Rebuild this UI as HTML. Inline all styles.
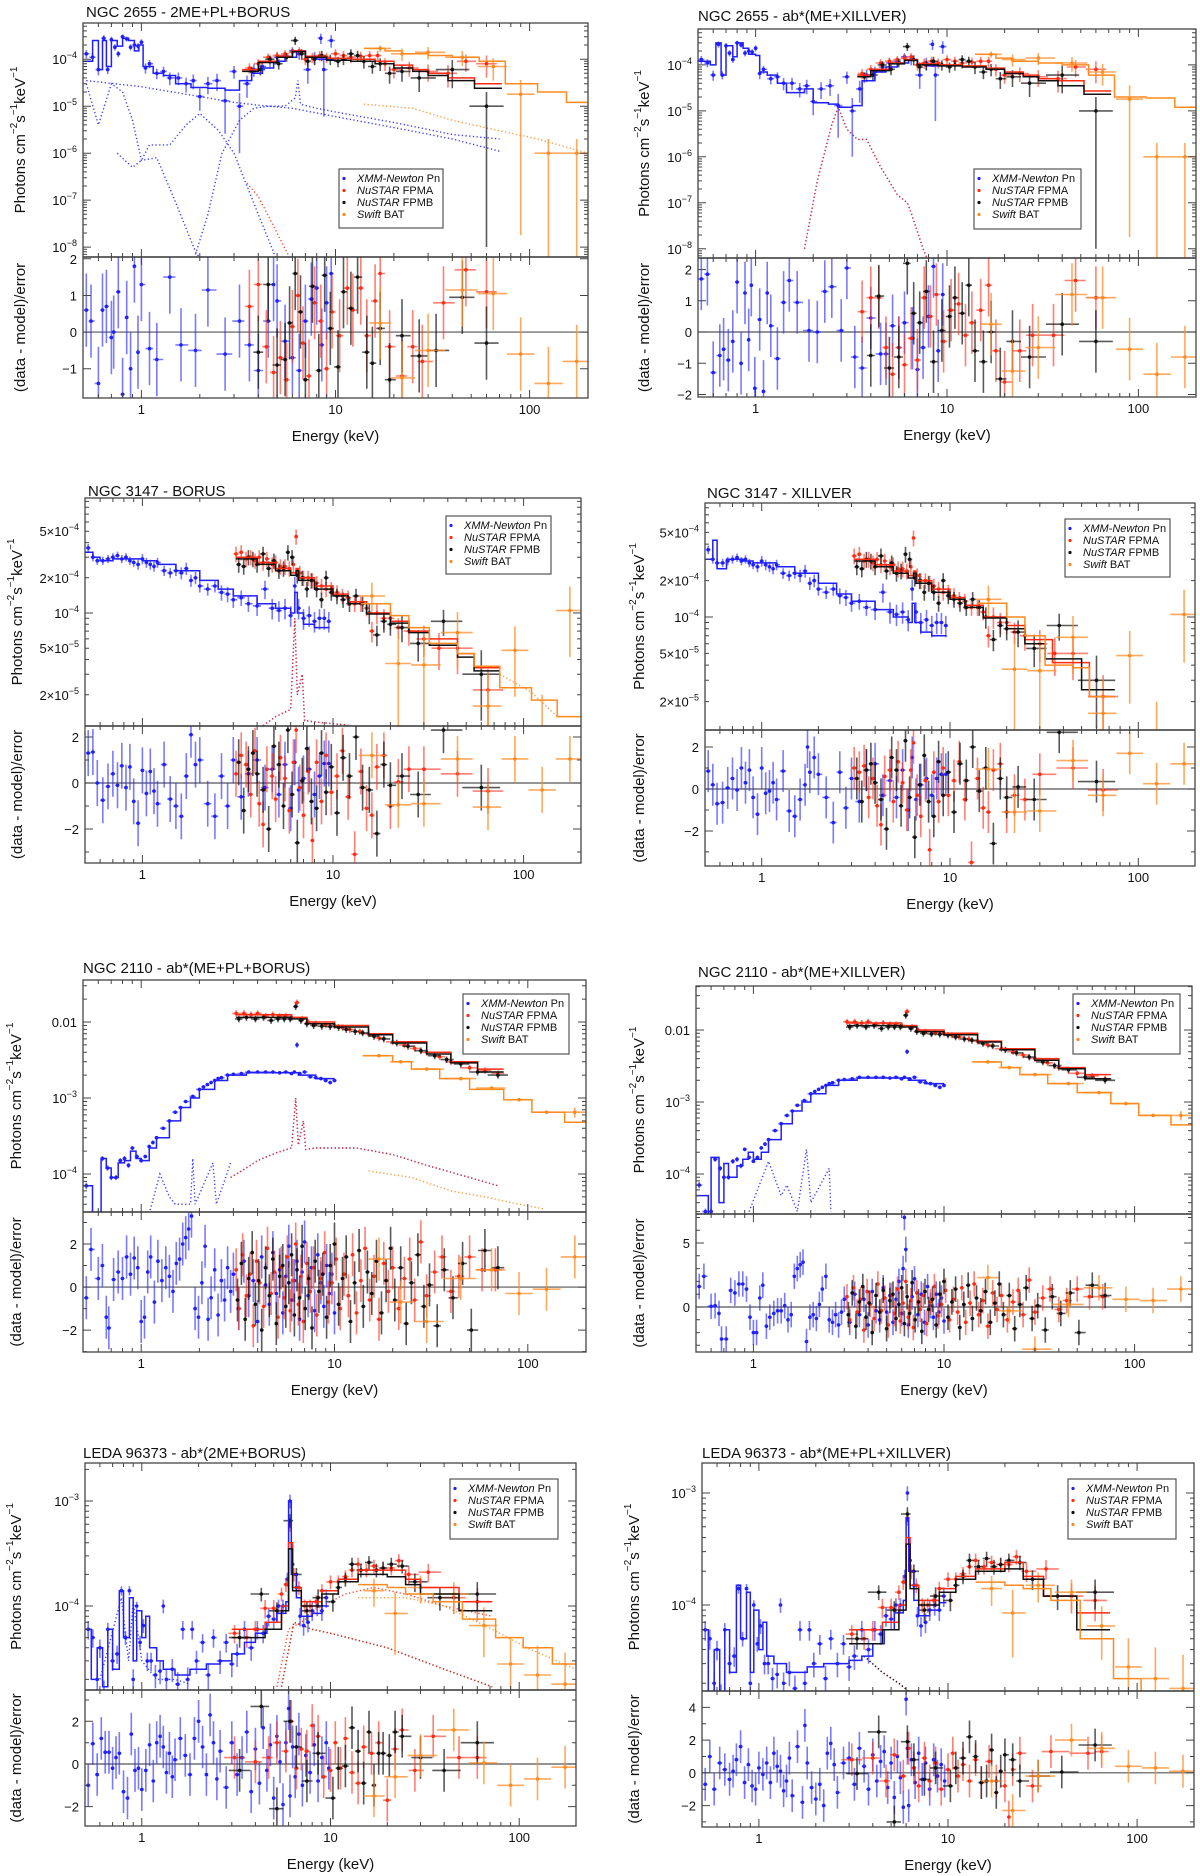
<!DOCTYPE html>
<html><head><meta charset="utf-8">
<style>
html,body{margin:0;padding:0;background:#fff;overflow:hidden;}
svg{display:block;font-family:"Liberation Sans",Arial,sans-serif;}
</style></head>
<body>
<svg id="fig" width="1200" height="1876" viewBox="0 0 1200 1876" xmlns="http://www.w3.org/2000/svg"></svg>
<script>
// ================= DATA =================
const xTickVals = [1, 10, 100];
const xTickLabels = ["1", "10", "100"];

// ---- NGC 2655 spectra [E(keV), flux, relErr] ----
const n2655_xmm = [[0.52,1.3e-4,.2],[0.56,1.1e-4,.2],[0.6,6e-5,.25],[0.64,2.8e-4,.15],[0.67,6e-5,.2],[0.7,2.6e-4,.15],[0.73,1.8e-4,.15],[0.76,1.3e-4,.15],[0.8,3e-4,.12],[0.84,2.7e-4,.12],[0.88,1.8e-4,.15],[0.92,2e-4,.15],[0.96,1.9e-4,.15],[1.0,2.3e-4,.15],[1.05,6.5e-5,.25],[1.1,8e-5,.2],[1.2,5e-5,.25],[1.3,5.5e-5,.25],[1.4,4e-5,.3],[1.55,4e-5,.3],[1.7,3e-5,.35],[1.85,3.5e-5,.35],[2.0,1.6e-5,.5],[2.2,3e-5,.4],[2.45,3.5e-5,.4],[2.7,1.3e-5,.8],[3.0,5.5e-5,.3],[3.2,1e-5,.9],[3.5,3e-5,.5],[3.8,6e-5,.3],[4.2,7e-5,.3],[4.6,9e-5,.25],[5.0,1.1e-4,.25],[5.5,1.2e-4,.2],[6.0,1.5e-4,.2],[6.5,1.3e-4,.25],[7.2,6e-5,.5],[7.8,1.1e-4,.3],[8.4,2.8e-4,.25],[8.7,6e-5,.9],[9.5,2.5e-4,.3]];
const n2655_fpma = [[3.6,6.5e-5,.25],[4.0,8e-5,.25],[4.5,1.1e-4,.2],[5.0,1.2e-4,.2],[5.5,1.3e-4,.2],[6.0,1.4e-4,.2],[6.5,1.5e-4,.2],[7.0,1e-4,.25],[7.6,1.1e-4,.25],[8.3,1.2e-4,.25],[9.0,1.1e-4,.25],[10,1.3e-4,.25],[11,1.2e-4,.25],[12,1.1e-4,.25],[13.5,1.15e-4,.25],[15,1.2e-4,.25],[16.5,1.2e-4,.25],[18,8e-5,.3],[20,6e-5,.35],[24,6.5e-5,.35],[30,5.5e-5,.4],[38,5e-5,.5],[47,9e-5,.4],[60,8e-5,.5]];
const n2655_fpmb = [[3.7,5.5e-5,.25],[4.1,6e-5,.25],[4.6,1e-4,.2],[5.1,8e-5,.25],[5.6,1.1e-4,.2],[6.2,2.5e-4,.2],[6.7,1.3e-4,.25],[7.2,9e-5,.25],[7.8,1e-4,.25],[8.5,1.2e-4,.25],[9.4,1e-4,.25],[10.3,9e-5,.25],[11,1e-4,.25],[12,1.3e-4,.25],[13,1.2e-4,.25],[14,9e-5,.3],[15.5,7e-5,.3],[17,8e-5,.3],[19,5e-5,.4],[22,5.5e-5,.4],[27,4e-5,.5],[40,6e-5,.6],[60,1e-5,.999]];
const n2655_bat = [[17,1.7e-4,.15],[22,1.3e-4,.3],[30,1.4e-4,.3],[45,1.1e-4,.35],[65,7e-5,.5],[90,1.8e-5,.999],[125,1e-6,.999],[175,1e-6,.999]];

// ---- NGC 3147 spectra ----
const n3147_xmm = [[0.52,3.6e-4,.08],[0.55,3e-4,.08],[0.58,2.8e-4,.08],[0.62,2.8e-4,.08],[0.66,2.9e-4,.08],[0.7,3e-4,.08],[0.74,3.1e-4,.08],[0.78,2.9e-4,.08],[0.82,3e-4,.08],[0.86,2.8e-4,.08],[0.9,2.7e-4,.08],[0.95,2.6e-4,.1],[1.0,2.9e-4,.1],[1.05,2.7e-4,.1],[1.1,2.6e-4,.1],[1.15,2.5e-4,.1],[1.2,2.7e-4,.1],[1.3,2.3e-4,.1],[1.4,2.2e-4,.1],[1.5,2.3e-4,.1],[1.6,2.2e-4,.12],[1.7,2.4e-4,.12],[1.8,1.9e-4,.12],[1.9,2e-4,.12],[2.0,1.7e-4,.12],[2.2,1.6e-4,.12],[2.4,1.7e-4,.12],[2.6,1.5e-4,.15],[2.8,1.45e-4,.15],[3.0,1.3e-4,.15],[3.3,1.35e-4,.15],[3.6,1.2e-4,.15],[4.0,1.15e-4,.18],[4.4,1.6e-4,.18],[4.8,1.1e-4,.2],[5.2,1.05e-4,.2],[5.6,1.1e-4,.2],[6.0,9.5e-5,.2],[6.3,1.7e-4,.2],[6.6,1.1e-4,.2],[7.0,9e-5,.2],[7.5,9.5e-5,.2],[8,8.5e-5,.2],[8.5,9e-5,.2],[9.0,9e-5,.2],[9.5,8.5e-5,.2]];
const n3147_fpma = [[3.1,3.2e-4,.15],[3.3,3.3e-4,.15],[3.5,2.9e-4,.15],[3.7,3e-4,.15],[3.9,2.8e-4,.15],[4.1,3e-4,.15],[4.3,2.7e-4,.15],[4.5,2.9e-4,.15],[4.8,2.6e-4,.15],[5.0,2.7e-4,.15],[5.3,2.5e-4,.15],[5.6,2.5e-4,.15],[5.9,2.4e-4,.15],[6.2,2.6e-4,.15],[6.4,4.5e-4,.15],[6.7,2.2e-4,.15],[7.0,2e-4,.15],[7.4,2e-4,.15],[7.8,1.9e-4,.15],[8.2,1.8e-4,.15],[8.7,1.7e-4,.15],[9.2,1.6e-4,.15],[9.8,1.6e-4,.15],[10.5,1.5e-4,.15],[11.2,1.4e-4,.15],[12,1.35e-4,.15],[13,1.2e-4,.15],[14,1.2e-4,.15],[15,1.1e-4,.15],[16,7e-5,.2],[17,1e-4,.2],[18.5,9e-5,.2],[20,9e-5,.2],[22,7.5e-5,.2],[25,7e-5,.25],[30,6e-5,.3],[36,5e-5,.35],[45,5e-5,.4],[65,2.2e-5,.5]];
const n3147_fpmb = [[3.2,2.6e-4,.15],[3.4,2.5e-4,.15],[3.6,3e-4,.15],[3.8,2.9e-4,.15],[4.0,2.6e-4,.15],[4.3,3.2e-4,.15],[4.6,2.4e-4,.15],[4.9,2.8e-4,.15],[5.2,2.3e-4,.15],[5.5,2.4e-4,.15],[5.8,3.3e-4,.15],[6.1,3e-4,.15],[6.5,2.1e-4,.15],[6.9,2e-4,.15],[7.3,1.6e-4,.15],[7.7,1.9e-4,.15],[8.2,1.6e-4,.15],[8.7,1.3e-4,.15],[9.2,2e-4,.15],[9.8,1.5e-4,.15],[10.5,1.4e-4,.15],[11.3,1.3e-4,.15],[12.2,1.2e-4,.15],[13.2,1.4e-4,.15],[14.3,1.2e-4,.15],[15.5,1e-4,.2],[17,6.5e-5,.2],[18.5,8.5e-5,.2],[20,8e-5,.2],[23,7.5e-5,.25],[28,5.5e-5,.3],[38,8.5e-5,.25],[60,3e-5,.6]];
const n3147_bat = [[16,1.4e-4,.3],[22,3.7e-5,.8],[30,3.6e-5,.8],[45,6.8e-5,.5],[65,1.6e-5,.9],[90,4.8e-5,.6],[125,1e-5,.999],[175,1.05e-4,.6]];

// ---- NGC 2110 spectra ----
const n2110_xmm = [[0.52,7e-5,.1],[0.56,3e-5,.1],[0.6,3e-5,.1],[0.63,1.6e-4,.08],[0.67,1.2e-4,.08],[0.7,9e-5,.08],[0.74,9e-5,.08],[0.78,1.5e-4,.08],[0.82,1.6e-4,.08],[0.86,1.3e-4,.08],[0.9,2.2e-4,.06],[0.95,1.7e-4,.06],[1.0,1.5e-4,.06],[1.05,1.7e-4,.06],[1.1,2.3e-4,.06],[1.15,2.6e-4,.06],[1.2,3e-4,.05],[1.3,4e-4,.05],[1.4,5e-4,.05],[1.5,6.5e-4,.05],[1.6,7.5e-4,.05],[1.7,9e-4,.05],[1.85,1.05e-3,.05],[2.0,1.3e-3,.05],[2.1,1.4e-3,.05],[2.2,1.5e-3,.05],[2.3,1.6e-3,.05],[2.4,1.7e-3,.05],[2.5,1.8e-3,.05],[2.6,1.85e-3,.05],[2.8,2e-3,.05],[3.0,2.05e-3,.05],[3.3,2.1e-3,.05],[3.6,2.2e-3,.05],[4.0,2.2e-3,.05],[4.4,2.2e-3,.05],[4.8,2.2e-3,.05],[5.2,2.15e-3,.05],[5.6,2.2e-3,.05],[6.0,2.1e-3,.05],[6.2,2.2e-3,.05],[6.4,5e-3,.08],[6.6,2.1e-3,.05],[7.0,2.2e-3,.05],[7.5,1.9e-3,.05],[8,1.85e-3,.05],[8.5,1.8e-3,.05],[9,1.7e-3,.06],[9.5,1.6e-3,.06],[10,1.7e-3,.06]];
const n2110_fpma = [[3.1,1.3e-2,.1],[3.4,1.3e-2,.1],[3.7,1.25e-2,.1],[4.0,1.3e-2,.1],[4.4,1.2e-2,.1],[4.8,1.25e-2,.1],[5.2,1.2e-2,.1],[5.6,1.2e-2,.1],[6.0,1.15e-2,.1],[6.4,1.8e-2,.1],[6.8,1.1e-2,.1],[7.3,1e-2,.1],[8,9.5e-3,.1],[9,9.2e-3,.1],[10,9e-3,.1],[11,8.5e-3,.1],[12,8e-3,.1],[13.5,7.5e-3,.1],[15,7e-3,.1],[17,6.2e-3,.1],[20,5.5e-3,.1],[23,5e-3,.1],[26,4.5e-3,.1],[30,4e-3,.1],[35,3.5e-3,.1],[40,3e-3,.1],[50,2.5e-3,.1],[60,2.3e-3,.1],[70,2.1e-3,.1]];
const n2110_fpmb = [[3.2,1.1e-2,.1],[3.5,1.15e-2,.1],[3.9,1.1e-2,.1],[4.3,1.15e-2,.1],[4.7,1.05e-2,.1],[5.1,1.1e-2,.1],[5.5,1.1e-2,.1],[5.9,1.1e-2,.1],[6.3,1.6e-2,.1],[6.7,1.05e-2,.1],[7.2,9.5e-3,.1],[7.8,9e-3,.1],[8.6,8.8e-3,.1],[9.5,8.7e-3,.1],[10.5,8.5e-3,.1],[11.5,8e-3,.1],[12.8,7.5e-3,.1],[14,7.2e-3,.1],[16,6.5e-3,.1],[18,6e-3,.1],[21,5.3e-3,.1],[24,4.8e-3,.1],[28,4.2e-3,.1],[33,3.6e-3,.1],[38,3.2e-3,.1],[45,2.8e-3,.1],[55,2.2e-3,.1],[70,2e-3,.1]];
const n2110_bat = [[17,3.6e-3,.05],[22,3e-3,.05],[30,2.4e-3,.05],[45,1.8e-3,.05],[65,1.35e-3,.05],[90,9.5e-4,.05],[125,6.5e-4,.05],[175,6.5e-4,.15]];

// ---- LEDA 96373 spectra ----
const leda_xmm = [[0.52,6e-5,.2],[0.55,5e-5,.2],[0.58,2e-5,.25],[0.6,4e-5,.2],[0.63,1.5e-5,.3],[0.66,6e-5,.15],[0.7,3e-5,.2],[0.74,3.5e-5,.2],[0.78,1.4e-4,.1],[0.82,5e-5,.15],[0.86,1.4e-4,.1],[0.9,2e-5,.25],[0.94,1e-4,.1],[0.98,4.5e-5,.15],[1.02,6.5e-5,.15],[1.07,3e-5,.2],[1.12,3e-5,.2],[1.18,2.2e-5,.25],[1.25,2.4e-5,.25],[1.3,1e-4,.15],[1.35,2e-5,.25],[1.45,2.5e-5,.25],[1.55,1.8e-5,.3],[1.65,6e-5,.2],[1.75,2e-5,.3],[1.85,6e-5,.2],[1.95,3e-5,.25],[2.1,4.5e-5,.2],[2.25,2.2e-5,.3],[2.4,5e-5,.2],[2.6,3e-5,.25],[2.8,4.5e-5,.2],[3.0,2.8e-5,.25],[3.2,3.5e-5,.25],[3.5,6e-5,.2],[3.8,4e-5,.25],[4.1,6e-5,.2],[4.4,5.5e-5,.2],[4.7,8e-5,.2],[5.0,7.5e-5,.2],[5.3,1e-4,.15],[5.6,1e-4,.15],[5.9,1.8e-4,.15],[6.1,1e-3,.15],[6.3,2.5e-4,.15],[6.6,1.5e-4,.15],[6.9,8e-5,.2],[7.2,6.5e-5,.2],[7.6,7e-5,.2],[8.0,9e-5,.2],[8.5,1e-4,.2],[9,9e-5,.2],[9.5,1.2e-4,.2]];
const leda_fpma = [[3.1,5.5e-5,.2],[3.6,5e-5,.2],[4.0,6e-5,.2],[4.5,9.5e-5,.2],[5.0,9.5e-5,.2],[5.5,1.3e-4,.15],[5.8,1.6e-4,.15],[6.1,6e-4,.15],[6.4,2e-4,.15],[6.8,1.5e-4,.15],[7.3,1e-4,.15],[7.8,1e-4,.15],[8.4,1.1e-4,.15],[9,1.4e-4,.15],[10,1.7e-4,.15],[11,1.7e-4,.15],[12,1.9e-4,.15],[13,2.2e-4,.15],[14,2.5e-4,.15],[15.5,2.2e-4,.15],[17,2.4e-4,.15],[19,2.3e-4,.15],[21,2.3e-4,.15],[23,2.7e-4,.15],[26,2e-4,.2],[33,2.1e-4,.2],[45,1.2e-4,.3],[60,1.1e-4,.35]];
const leda_fpmb = [[3.3,5e-5,.2],[4.3,1.3e-4,.15],[5.2,9e-5,.2],[6.1,6.5e-4,.15],[6.6,2e-4,.15],[7.5,9e-5,.2],[8.6,1.2e-4,.2],[10.3,1.1e-4,.2],[11,1.5e-4,.15],[12,1.8e-4,.15],[13,2.5e-4,.15],[14.5,2.2e-4,.15],[16,2.6e-4,.15],[17.5,2.2e-4,.15],[19,2.3e-4,.15],[21,2.5e-4,.15],[24,2.4e-4,.15],[28,1.7e-4,.2],[38,1.2e-4,.25],[60,1.3e-4,.3]];
const leda_bat = [[17,1.4e-4,.3],[22,8.5e-5,.6],[30,1.5e-4,.3],[45,1.3e-4,.3],[65,6.5e-5,.5],[90,2.8e-5,.8],[125,2.2e-5,.9],[175,1.8e-5,.999]];

// ---- model step curves (bin edges [E, value]) ----
const m1_xmm = [[0.5,9e-5],[0.56,2.5e-4],[0.6,6e-5],[0.63,2.5e-4],[0.66,7e-5],[0.7,2.5e-4],[0.75,1.9e-4],[0.8,2.8e-4],[0.86,2.5e-4],[0.92,1.5e-4],[0.97,2e-4],[1.02,7e-5],[1.15,5e-5],[1.3,4.5e-5],[1.5,3e-5],[1.8,2.5e-5],[2.2,2.4e-5],[2.7,2.2e-5],[3.2,3.5e-5],[3.7,5e-5],[4.2,6.5e-5],[4.8,9e-5],[5.5,1.1e-4],[6.3,1.5e-4],[7,1.1e-4],[8,1e-4],[9.8,1e-4]];
const m1_fpma = [[3.3,6e-5],[4,9e-5],[5,1.15e-4],[6,1.5e-4],[7,1.15e-4],[9,1.05e-4],[12,1e-4],[16,9e-5],[20,7.5e-5],[25,6e-5],[30,5e-5],[38,4e-5],[52,3e-5],[72,3e-5]];
const m1_fpmb = [[3.3,5.5e-5],[4,8.5e-5],[5,1.1e-4],[6,1.45e-4],[7,1.1e-4],[9,9.5e-5],[12,9e-5],[16,8e-5],[20,6.5e-5],[25,5.5e-5],[30,4.5e-5],[38,3.5e-5],[52,2.4e-5],[72,2.4e-5]];
const m1_bat = [[14,1.7e-4],[18,1.5e-4],[22,1.3e-4],[30,1.2e-4],[40,1.1e-4],[55,9e-5],[75,3e-5],[110,2e-5],[155,1.2e-5],[200,1.2e-5]];
const m2_xmm = [[0.5,1.2e-4],[0.58,1e-4],[0.62,3e-4],[0.66,6e-5],[0.7,2.6e-4],[0.76,1.5e-4],[0.8,3e-4],[0.86,2.3e-4],[0.92,1.7e-4],[1.0,1.6e-4],[1.05,7e-5],[1.15,6e-5],[1.3,4e-5],[1.45,2.5e-5],[1.6,2.5e-5],[1.8,3e-5],[2.0,1.5e-5],[2.4,1.4e-5],[2.7,1.2e-5],[3.2,1.3e-5],[3.6,4.5e-5],[4.2,7e-5],[4.8,9e-5],[5.5,1.1e-4],[6.3,1.3e-4],[7,1e-4],[8,9.5e-5],[9.8,9.5e-5]];
const m2_fpma = [[3.4,6e-5],[4,8e-5],[5,1.1e-4],[6,1.3e-4],[7,1.05e-4],[9,1e-4],[12,9.5e-5],[16,8.5e-5],[20,7e-5],[25,6e-5],[30,5e-5],[38,4.5e-5],[52,2.7e-5],[72,2.7e-5]];
const m2_fpmb = [[3.4,5.5e-5],[4,7.5e-5],[5,1.05e-4],[6,1.25e-4],[7,1e-4],[9,9.5e-5],[12,9e-5],[16,8e-5],[20,6.5e-5],[25,5.5e-5],[30,4.5e-5],[38,3.5e-5],[52,2.3e-5],[72,2.3e-5]];
const m2_bat = [[14,1.7e-4],[18,1.4e-4],[22,1.2e-4],[30,1.1e-4],[40,1e-4],[55,6e-5],[75,2e-5],[110,1.9e-5],[155,1.2e-5],[200,1.2e-5]];
const m3_xmm = [[0.5,3.3e-4],[0.55,3e-4],[0.6,2.8e-4],[0.7,2.9e-4],[0.8,2.9e-4],[1.0,2.8e-4],[1.2,2.6e-4],[1.5,2.3e-4],[2,1.9e-4],[2.5,1.6e-4],[3,1.4e-4],[4,1.2e-4],[5,1.1e-4],[6,1e-4],[6.3,1.5e-4],[6.5,1e-4],[7,8e-5],[8,7.5e-5],[9.6,7.5e-5]];
const m3_fpma = [[3.1,3e-4],[4,2.7e-4],[5,2.4e-4],[6,2.2e-4],[6.4,2.4e-4],[6.6,2e-4],[8,1.7e-4],[10,1.45e-4],[12,1.25e-4],[15,1e-4],[20,8.5e-5],[25,7e-5],[32,6e-5],[45,4.5e-5],[55,3.4e-5],[75,3.4e-5]];
const m3_fpmb = [[3.1,2.9e-4],[4,2.6e-4],[5,2.3e-4],[6,2.1e-4],[6.4,2.3e-4],[6.6,1.9e-4],[8,1.6e-4],[10,1.4e-4],[12,1.2e-4],[15,9.8e-5],[20,8.2e-5],[25,6.8e-5],[32,5.3e-5],[45,4.2e-5],[55,3.2e-5],[75,3.2e-5]];
const m3_bat = [[14,1.2e-4],[20,9.5e-5],[25,7.5e-5],[32,5.5e-5],[45,4.5e-5],[55,3.5e-5],[75,2.3e-5],[110,1.8e-5],[150,1.3e-5],[200,1.3e-5]];
const m4_xmm = [[0.5,3e-4],[0.55,4.3e-4],[0.58,2.5e-4],[0.65,3e-4],[0.8,2.9e-4],[0.9,2.8e-4],[1.2,2.6e-4],[1.5,2.3e-4],[2,1.9e-4],[2.5,1.55e-4],[3,1.35e-4],[4,1.15e-4],[5,1e-4],[6,9e-5],[6.3,1.3e-4],[6.5,9e-5],[7,7.5e-5],[8,7e-5],[9.6,7e-5]];
const m4_fpma = [[3.1,3e-4],[4,2.7e-4],[5,2.4e-4],[6,2.2e-4],[6.4,2.4e-4],[6.6,2e-4],[8,1.7e-4],[10,1.45e-4],[12,1.25e-4],[15,1e-4],[20,8.5e-5],[25,6.5e-5],[35,4.2e-5],[55,2.2e-5],[75,2.2e-5]];
const m4_fpmb = [[3.1,2.9e-4],[4,2.6e-4],[5,2.3e-4],[6,2.1e-4],[6.4,2.3e-4],[6.6,1.9e-4],[8,1.6e-4],[10,1.4e-4],[12,1.2e-4],[15,9.8e-5],[20,8e-5],[25,6e-5],[32,4.5e-5],[50,2.5e-5],[75,2.5e-5]];
const m4_bat = [[14,1.3e-4],[20,1e-4],[25,7e-5],[32,4e-5],[45,3.8e-5],[55,2.2e-5],[75,2.2e-5]];
const m5_xmm = [[0.5,7e-5],[0.56,3e-5],[0.62,1.6e-4],[0.66,1.2e-4],[0.7,9e-5],[0.76,1.4e-4],[0.82,1.5e-4],[0.88,2e-4],[0.94,1.6e-4],[1.0,1.5e-4],[1.1,2.2e-4],[1.2,3e-4],[1.4,5e-4],[1.6,7.5e-4],[1.8,1e-3],[2.0,1.3e-3],[2.4,1.7e-3],[2.8,2e-3],[3.5,2.15e-3],[6.3,2.15e-3],[6.5,2e-3],[8,1.8e-3],[10,1.7e-3]];
const m5_fpma = [[3.1,1.25e-2],[6,1.15e-2],[7.2,1e-2],[10,9e-3],[15,7e-3],[20,5.5e-3],[30,4e-3],[40,3e-3],[55,2.4e-3],[75,2.2e-3]];
const m5_fpmb = [[3.1,1.15e-2],[6,1.1e-2],[7.2,9.5e-3],[10,8.6e-3],[15,6.8e-3],[20,5.3e-3],[30,3.8e-3],[40,2.9e-3],[55,2.2e-3],[75,2e-3]];
const m5_bat = [[14,3.6e-3],[20,3e-3],[25,2.4e-3],[35,1.8e-3],[50,1.3e-3],[75,9.5e-4],[105,6.5e-4],[155,4.8e-4],[200,4.8e-4]];
const m6_xmm = [[0.5,5e-5],[0.58,2.5e-5],[0.6,1.7e-4],[0.66,4e-5],[0.7,1.4e-4],[0.74,9e-5],[0.82,1.3e-4],[0.88,1.6e-4],[0.94,2e-4],[1.0,1.6e-4],[1.1,2e-4],[1.2,3e-4],[1.4,5e-4],[1.6,7.5e-4],[1.8,1e-3],[2.0,1.3e-3],[2.4,1.7e-3],[2.8,2e-3],[3.5,2.15e-3],[6.3,2.15e-3],[6.5,2e-3],[8,1.8e-3],[10,1.7e-3]];
const m6_fpma = [[3.1,1.25e-2],[6,1.15e-2],[7.2,1e-2],[10,9e-3],[15,7e-3],[20,5.5e-3],[30,4e-3],[40,3e-3],[55,2.4e-3],[75,2.2e-3]];
const m6_fpmb = [[3.1,1.15e-2],[6,1.1e-2],[7.2,9.5e-3],[10,8.6e-3],[15,6.8e-3],[20,5.3e-3],[30,3.8e-3],[40,2.9e-3],[55,2.1e-3],[75,2e-3]];
const m6_bat = [[14,3.6e-3],[20,3e-3],[25,2.4e-3],[35,1.8e-3],[50,1.35e-3],[75,9.5e-4],[105,6.5e-4],[155,4.8e-4],[200,4.8e-4]];
const m7_xmm = [[0.5,6e-5],[0.54,2e-5],[0.58,4e-5],[0.62,1.7e-5],[0.66,6e-5],[0.7,2.5e-5],[0.76,1.4e-4],[0.8,5e-5],[0.86,1.2e-4],[0.9,3e-5],[0.94,9e-5],[1.0,5e-5],[1.05,8e-5],[1.1,4e-5],[1.2,3e-5],[1.3,2.5e-5],[1.5,2.2e-5],[1.8,2.5e-5],[2.2,2.8e-5],[2.6,3e-5],[3,3.5e-5],[3.5,4.5e-5],[4,5.5e-5],[4.6,7e-5],[5.2,8.5e-5],[5.8,1.1e-4],[6.0,1e-3],[6.2,2e-4],[6.6,1.2e-4],[7,8e-5],[8,8.5e-5],[9,1e-4],[9.8,1.2e-4]];
const m7_fpma = [[3,6e-5],[4.5,7e-5],[5.5,1e-4],[6,4e-4],[6.3,1.5e-4],[7,1.1e-4],[9,1.4e-4],[11,1.8e-4],[14,2.2e-4],[20,2.2e-4],[25,1.8e-4],[30,1.5e-4],[48,1.1e-4],[72,1.1e-4]];
const m7_fpmb = [[3,5e-5],[4.5,6e-5],[5.5,9e-5],[6,3.5e-4],[6.3,1.4e-4],[7,1e-4],[9,1.3e-4],[11,1.7e-4],[14,2e-4],[20,1.9e-4],[25,1.6e-4],[30,1.3e-4],[48,9e-5],[72,9e-5]];
const m7_bat = [[14,1.6e-4],[20,1.5e-4],[25,1.3e-4],[35,1.1e-4],[50,7.5e-5],[75,5e-5],[105,4e-5],[150,2.8e-5],[200,2.8e-5]];
const m8_xmm = [[0.5,6e-5],[0.54,1.5e-5],[0.58,4e-5],[0.62,1.5e-5],[0.66,6e-5],[0.7,2.5e-5],[0.76,1.5e-4],[0.8,5e-5],[0.86,1.3e-4],[0.9,2.5e-5],[0.94,9e-5],[1.0,4e-5],[1.05,7e-5],[1.1,3.5e-5],[1.2,3e-5],[1.4,2.5e-5],[1.6,2.5e-5],[1.8,2.8e-5],[2.2,3e-5],[2.6,3e-5],[3,3.2e-5],[3.5,3.5e-5],[4,4.5e-5],[4.6,6e-5],[5.2,8.5e-5],[5.8,1.1e-4],[6.0,6e-4],[6.2,2e-4],[6.6,1.1e-4],[7,8e-5],[8,9e-5],[9,1.05e-4],[9.8,1.1e-4]];
const m8_fpma = [[3,6e-5],[4.5,7e-5],[5.5,1e-4],[6,4e-4],[6.3,1.5e-4],[7,1.1e-4],[9,1.4e-4],[11,1.8e-4],[14,2.1e-4],[20,2.4e-4],[25,1.8e-4],[32,1.2e-4],[48,8.5e-5],[72,8.5e-5]];
const m8_fpmb = [[3,4.5e-5],[4.5,6e-5],[5.5,9e-5],[6,3.5e-4],[6.3,1.4e-4],[7,1e-4],[9,1.3e-4],[11,1.7e-4],[14,2e-4],[20,2.1e-4],[25,1.7e-4],[32,1.2e-4],[48,6e-5],[72,6e-5]];
const m8_bat = [[14,1.6e-4],[20,1.5e-4],[25,1.4e-4],[35,1.1e-4],[50,5e-5],[75,2.2e-5],[105,1.5e-5],[150,1.5e-5]];

// ---- dotted model components [E, value] ----
const d1_pl = [[0.52,3.5e-5],[1,2.6e-5],[2,1.6e-5],[3,1.2e-5],[4,1.05e-5],[6,9e-6],[10,6e-6],[20,3.5e-6],[40,2e-6],[70,1.1e-6]];
const d1_me1 = [[0.52,3e-5],[0.6,4e-6],[0.7,3e-5],[0.8,2e-5],[0.9,5e-6],[1.0,7e-7],[1.2,8e-7],[1.5,9e-8],[1.9,8e-9],[2.05,5e-9]];
const d1_me2 = [[0.75,1e-6],[0.9,5e-7],[1.0,7e-7],[1.1,1.5e-6],[1.4,1.5e-6],[1.7,4e-6],[2.0,7e-6],[2.5,3e-6],[3.0,1e-6],[3.5,2e-7],[4.0,5e-8],[5,5e-9]];
const d1_abs = [[1.9,7e-9],[2.2,5e-8],[2.6,1e-6],[3.2,5e-6],[3.8,9e-6],[4.5,1e-5],[5.5,1e-5],[6.2,1.5e-5],[6.4,3.5e-5],[6.6,1.1e-5],[8,9e-6],[10,7.5e-6],[20,4.5e-6],[40,2.5e-6],[70,2e-6]];
const d1_refl = [[3.5,2.3e-7],[4,1.2e-7],[5,2e-8],[5.8,6e-9]];
const d1_bat = [[14,1.1e-5],[25,9e-6],[40,5e-6],[70,3e-6],[110,2e-6],[200,1e-6]];
const d2_me = [[1.8,1e-8],[2.1,3e-7],[2.5,5e-6],[2.7,1.2e-5],[3.0,4e-6],[3.4,2.4e-6],[3.8,2.4e-6],[4.5,6e-7],[5.5,1.5e-7],[6.2,1e-7],[6.5,6e-8],[7.5,1e-8],[8,5e-9]];
const d3_fe = [[4,1e-5],[5,1.3e-5],[6,1.5e-5],[6.3,9e-5],[6.5,2e-5],[6.9,3e-5],[7.1,1.2e-5],[9,1.15e-5],[12,1.1e-5]];
const d3_bat = [[75,3e-5],[110,2.1e-5],[150,1.3e-5],[200,1.3e-5]];
const d5_refl = [[2.9,9e-5],[3.5,1.2e-4],[4,1.5e-4],[5,1.9e-4],[6,2.2e-4],[6.3,1e-3],[6.5,2.4e-4],[6.9,5e-4],[7.1,2.1e-4],[8,2.2e-4],[10,2.2e-4],[13,2.2e-4],[20,1.8e-4],[30,1.3e-4],[50,9e-5],[70,7e-5]];
const d5_bat = [[15,1.1e-4],[25,9e-5],[40,6e-5],[60,5e-5],[90,4e-5],[120,3.5e-5]];
const d5_lines = [[1.1,3e-5],[1.25,1e-4],[1.4,5e-5],[1.5,4e-5],[1.8,4e-5],[1.85,1.6e-4],[1.9,4e-5],[2.35,1.4e-4],[2.45,4e-5],[2.9,1.4e-4]];
const d6_lines = [[0.95,3e-5],[1.2,1.5e-4],[1.4,5e-5],[1.5,7e-5],[1.7,3e-5],[1.9,2.2e-4],[2.0,4e-5],[2.5,1.2e-4],[2.55,3e-5]];
const d7_me = [[0.6,2e-5],[0.78,1.2e-4],[0.85,3e-5],[0.9,1.1e-4],[1.0,3e-5],[1.2,2e-5],[1.5,2e-5],[1.8,1.8e-5]];
const d7_torus = [[5.2,1.7e-5],[6,6e-5],[7,7e-5],[9,1e-4],[12,1.3e-4],[17,1.5e-4],[25,1.3e-4],[40,1e-4],[72,8e-5]];
const d7_scat = [[5.5,1.7e-5],[6.4,7e-5],[8,6e-5],[10,5.5e-5],[20,4e-5],[40,2.5e-5],[72,1.7e-5]];
const d7_bat = [[14,1.2e-4],[25,1.2e-4],[40,1e-4],[72,6e-5],[110,4e-5],[200,2.5e-5]];
const d8_pl = [[3.6,3.5e-5],[4.5,2.5e-5],[5.5,2e-5],[6.2,1.7e-5]];

// ---- residuals [E, (data-model)/error] ----
const r1_xmm = [[0.52,0.6],[0.55,0.3],[0.6,-1.4],[0.63,0.6],[0.66,0.7],[0.7,-0.15],[0.72,0],[0.76,1.1],[0.8,-1.7],[0.84,0.4],[0.88,-1],[0.92,1.8],[0.96,-0.55],[1.0,1.3],[1.1,-0.45],[1.2,-0.75],[1.4,1.5],[1.6,-0.35],[1.9,-0.5],[2.2,1.15],[2.7,-0.6],[3.2,0.3],[3.6,-0.35],[4.0,-1.05],[4.5,0.3],[4.8,1.3],[5,0.85],[5.5,-0.25],[6,-0.7],[6.5,-1.05],[7,0.3],[7.5,0.9],[8,1.2],[8.5,-0.35],[9.0,0.8],[9.5,1.6]];
const r1_fpma = [[3.6,0.7],[4.0,1.3],[4.4,-0.4],[4.8,-1.1],[5.2,-0.7],[5.6,-1.3],[6.0,0.15],[6.4,1.0],[6.8,-0.3],[7.3,-1.2],[7.8,0.8],[8.4,0.3],[9,-1.0],[9.6,0.55],[10.5,-0.1],[11.5,1.2],[12.3,0.6],[13.5,1.2],[14.5,-0.1],[16,0.85],[17,1.6],[19,-0.4],[22,-1.2],[25,-0.4],[28,-0.8],[36,0.8],[47,1.7],[60,1.1]];
const r1_fpmb = [[4.0,-0.55],[4.5,1.3],[5.0,-0.9],[5.5,-0.75],[5.8,0.25],[6.2,1.6],[6.6,0.55],[7.0,-1.3],[7.6,1.25],[8.2,-1.05],[8.8,1.55],[9.4,0.1],[10.3,-0.95],[11,1.1],[12,0.65],[13,1.5],[14.5,-0.55],[15.5,-0.85],[17,0.1],[19,-1.3],[22,-0.1],[27,-0.65],[33,-0.5],[45,0.95],[60,-0.3]];
const r1_bat = [[17,0.25],[22,-1.25],[30,-0.5],[45,1.15],[65,1.05],[90,-0.6],[125,-1.4],[175,-0.8]];
const r2_xmm = [[0.52,1.7],[0.56,1.85],[0.6,-1.3],[0.65,-0.75],[0.68,-0.55],[0.72,-0.9],[0.76,-0.3],[0.8,1.6],[0.84,-1.0],[0.88,1.25],[0.92,-0.25],[0.95,1.5],[0.99,-1.8],[1.05,0.4],[1.1,-1.9],[1.15,1.25],[1.2,0.2],[1.3,-0.85],[1.4,0.95],[1.5,1.65],[1.65,0.95],[1.9,0.05],[2.1,0],[2.3,1.3],[2.5,1.45],[2.8,0.05],[3.0,2.05],[3.3,-0.8],[3.6,-1.15],[4.0,0.45],[4.5,-0.7],[4.8,-0.7],[5.2,0.2],[5.6,-0.5],[6.0,0.3],[6.6,-0.2],[7,-1.2],[7.5,-0.5],[8,0.5],[8.5,2.1],[9,-0.6],[9.5,1.2]];
const r2_fpma = [[3.6,0.65],[4.0,1.1],[4.4,1.1],[4.8,-0.5],[5.2,-1.35],[5.6,-0.5],[6.0,-1.05],[6.5,-0.2],[7.0,-0.9],[7.6,1.1],[8.2,0.5],[8.8,1.2],[9.6,-0.3],[10.5,0.7],[11.5,0.9],[12.5,-0.1],[13.5,0.3],[15,0.7],[16.5,1.5],[18,-0.6],[20,-1.6],[24,-0.6],[28,-0.1],[36,-0.1],[47,1.65],[60,1.1]];
const r2_fpmb = [[4.0,-0.75],[4.4,1.15],[5.0,-1.15],[5.6,-0.8],[6.2,2.2],[6.7,0.6],[7.2,0.3],[7.8,1.3],[8.5,-0.95],[9.4,0.05],[10.3,0.5],[11,1.1],[12,0.6],[13,1.5],[14,-0.6],[15.5,-0.95],[17,0],[19,-1.5],[22,-0.3],[27,-0.8],[40,0.25],[60,-0.3]];
const r2_bat = [[17,0.25],[22,-1.25],[30,-0.5],[45,1.2],[65,1.1],[90,-0.55],[125,-1.35],[175,-0.8]];
const r3_xmm = [[0.52,1.3],[0.55,1.35],[0.58,0],[0.62,-0.75],[0.66,-0.15],[0.7,0.4],[0.74,-0.1],[0.78,0.75],[0.82,-0.2],[0.86,0.7],[0.9,-0.8],[0.95,-1.75],[1.0,0.55],[1.05,-0.45],[1.1,0.5],[1.15,-0.35],[1.2,-0.9],[1.3,0.8],[1.4,-0.7],[1.5,-1.0],[1.6,-1.45],[1.7,0.3],[1.8,2.1],[1.9,0.8],[2.0,1.0],[2.2,-0.9],[2.4,-1.45],[2.6,0.3],[2.8,-1.0],[3.0,1.0],[3.3,-0.6],[3.6,0.4],[4.0,1.0],[4.4,-0.2],[4.8,0.6],[5.2,-0.5],[5.6,0.8],[6.0,-1.1],[6.3,0.9],[6.6,-0.3],[7.0,0.2],[7.5,0.6],[8,-0.5],[8.5,0.3],[9.0,0.85],[9.5,0.85]];
const r3_fpma = [[3.1,0.4],[3.3,1.2],[3.5,0.8],[3.7,-0.5],[3.9,1.4],[4.1,-0.9],[4.3,-1.8],[4.5,0.6],[4.8,0.3],[5.0,-0.7],[5.3,1.1],[5.6,0.2],[5.9,-1.2],[6.2,0.9],[6.4,2.3],[6.7,-0.2],[7.0,-1.4],[7.4,0.5],[7.8,-2.5],[8.2,0.9],[8.7,-0.8],[9.2,1.2],[9.8,-0.4],[10.5,0.3],[11.2,1.4],[12,-0.6],[13,-3.1],[14,0.5],[15,-1.1],[16,-1.4],[17,0.7],[18.5,1.2],[20,-1.0],[22,0.05],[25,0.6],[30,0.6],[45,0.4],[65,-0.35]];
const r3_fpmb = [[3.2,0.9],[3.4,-1.2],[3.6,0.6],[3.8,1.3],[4.0,0.4],[4.3,-0.3],[4.6,-2.0],[4.9,1.6],[5.2,0.8],[5.5,-1.0],[5.8,2.3],[6.1,-0.5],[6.5,-2.6],[6.9,0.1],[7.3,1.5],[7.7,-0.8],[8.2,-1.1],[8.7,1.3],[9.2,-0.4],[9.8,0.7],[10.5,-1.3],[11.3,1.1],[12.2,0.3],[13.2,2.0],[14.3,-0.2],[15.5,-0.3],[17,-2.2],[18.5,0.8],[20,-0.1],[23,0.3],[28,-0.5],[38,2.3],[60,-0.2]];
const r3_bat = [[16,1.2],[22,-0.95],[30,-0.9],[45,1.05],[65,-1.05],[90,1.05],[125,-0.3],[175,1.05]];
const r4_xmm = [[0.52,0.85],[0.55,0.2],[0.58,-0.7],[0.62,-0.65],[0.66,0.05],[0.7,0.5],[0.74,-0.05],[0.78,1.0],[0.82,0.3],[0.86,0.9],[0.9,-0.4],[0.95,-1.2],[1.0,1.0],[1.05,-0.2],[1.1,-0.1],[1.15,0.3],[1.2,-0.5],[1.3,0.85],[1.4,-1.05],[1.5,-1.3],[1.6,-0.5],[1.7,0.2],[1.75,2.0],[1.8,0.8],[1.9,1.5],[2.0,0.7],[2.2,-0.4],[2.4,-1.6],[2.6,0.8],[2.8,-0.9],[3.0,0.5],[3.3,-0.6],[3.6,0.9],[4.0,1.2],[4.4,-0.3],[4.8,0.4],[5.2,-0.4],[5.6,0.9],[6.0,-1.0],[6.3,1.5],[6.6,-0.5],[7.0,0.2],[7.5,0.5],[8,-0.3],[8.5,0.5],[9.0,0.7],[9.5,0.7]];
const r4_fpma = [[3.1,1.0],[3.3,0.8],[3.5,1.1],[3.7,-0.4],[3.9,0.5],[4.1,-0.8],[4.3,-1.7],[4.5,0.6],[4.8,0.9],[5.0,-0.6],[5.3,1.3],[5.6,0.3],[5.9,-1.0],[6.2,0.9],[6.4,2.2],[6.7,-0.3],[7.0,-1.3],[7.4,0.4],[7.8,-2.9],[8.2,0.8],[8.7,-0.6],[9.2,1.0],[9.8,-0.3],[10.5,0.4],[11.2,1.3],[12,-0.5],[13,-3.5],[14,0.5],[15,-0.9],[16,-1.1],[17,0.9],[18.5,1.2],[20,-1.1],[22,-0.3],[25,-0.5],[30,0.7],[45,1.0],[65,-0.05]];
const r4_fpmb = [[3.2,0.5],[3.4,-0.6],[3.6,0.9],[3.8,1.2],[4.0,0.3],[4.3,-0.5],[4.6,-1.9],[4.9,1.5],[5.2,0.9],[5.5,-0.8],[5.8,2.3],[6.1,-0.4],[6.5,-2.3],[6.9,0.2],[7.3,1.6],[7.7,-0.6],[8.2,-1.3],[8.7,1.3],[9.2,-0.3],[9.8,0.8],[10.5,-1.1],[11.3,1.2],[12.2,0.4],[13.2,2.0],[14.3,-0.1],[15.5,1.0],[17,-2.6],[18.5,0.5],[20,-0.4],[23,0.1],[28,-0.5],[38,2.7],[60,0.35]];
const r4_bat = [[16,0.95],[22,-1.1],[30,-1.05],[45,1.35],[65,-0.3],[90,1.7],[125,0.25],[175,1.2]];
const r5_xmm = [[0.52,-0.5],[0.55,1.75],[0.6,0.4],[0.63,1.0],[0.66,-1.4],[0.68,-1.9],[0.72,0.35],[0.76,0.7],[0.8,0.4],[0.84,1.4],[0.88,0.6],[0.92,1.35],[0.96,0.9],[1.0,-1.6],[1.04,-1.4],[1.08,0.7],[1.12,1.4],[1.17,-0.7],[1.22,1.2],[1.28,0.3],[1.34,0.9],[1.4,0.5],[1.46,-0.2],[1.52,1.1],[1.58,1.3],[1.64,2.0],[1.7,2.3],[1.76,2.7],[1.82,3.3],[1.9,-1.0],[1.98,-1.4],[2.06,0.2],[2.14,1.9],[2.22,-1.5],[2.3,-0.5],[2.4,0.8],[2.5,-1.3],[2.6,0.3],[2.7,-0.6],[2.8,0.9],[2.9,-0.2],[3.0,0.6],[3.2,-1.0],[3.4,1.2],[3.6,-0.4],[3.8,0.3],[4.0,-1.6],[4.2,1.4],[4.4,0.1],[4.6,-0.8],[4.8,1.6],[5.0,-0.3],[5.2,0.8],[5.4,-1.2],[5.6,0.5],[5.8,1.9],[6.0,-0.6],[6.2,0.3],[6.4,1.2],[6.6,-1.5],[6.8,0.7],[7.0,2.1],[7.3,-0.4],[7.6,0.9],[7.9,-1.1],[8.2,1.5],[8.5,0.2],[8.8,-0.9],[9.1,1.0],[9.4,-0.3],[9.7,0.6],[10,-1.2]];
const r5_fpma = [[3.1,0.8],[3.2,-1.0],[3.35,1.5],[3.5,-0.4],[3.65,0.6],[3.8,-1.8],[3.95,1.2],[4.1,0.2],[4.3,-0.9],[4.5,1.8],[4.7,-0.3],[4.9,0.7],[5.1,-1.4],[5.3,0.9],[5.5,-0.5],[5.7,1.4],[5.9,-1.1],[6.1,0.3],[6.3,2.0],[6.5,-0.8],[6.7,0.5],[6.9,-1.6],[7.2,1.1],[7.5,-0.2],[7.8,0.9],[8.1,-1.3],[8.5,0.4],[8.9,1.6],[9.3,-0.7],[9.7,0.2],[10.2,1.3],[10.7,-1.0],[11.2,0.6],[11.8,-0.4],[12.4,1.5],[13,-1.2],[13.7,0.3],[14.4,1.8],[15.2,-0.6],[16,0.5],[17,-1.5],[18,1.1],[19,-0.2],[20,0.9],[21.5,-1.0],[23,0.4],[24.5,1.3],[26,-0.6],[28,2.1],[30,-0.4],[33,0.7],[36,1.4],[40,-0.2],[44,0.5],[50,1.4],[58,0.8],[68,0.8]];
const r5_fpmb = [[3.15,-0.6],[3.3,1.1],[3.45,-1.5],[3.6,0.4],[3.75,1.6],[3.9,-0.8],[4.05,0.3],[4.2,-2.0],[4.4,0.9],[4.6,-0.4],[4.8,1.3],[5.0,-1.7],[5.2,0.5],[5.4,1.0],[5.6,-0.9],[5.8,0.2],[6.0,1.5],[6.2,-1.3],[6.4,0.8],[6.6,-0.5],[6.8,1.9],[7.05,-1.0],[7.35,0.4],[7.65,-1.9],[7.95,1.2],[8.3,-0.2],[8.7,0.6],[9.1,-1.4],[9.5,1.0],[10,2.0],[10.5,-0.8],[11,0.4],[11.5,1.4],[12.1,-1.6],[12.7,0.2],[13.4,1.7],[14.1,-0.9],[14.8,0.7],[15.6,-0.3],[16.5,1.2],[17.5,-1.2],[18.5,0.3],[19.5,1.8],[20.5,-0.6],[22,0.9],[23.5,-1.7],[25,0.2],[27,1.5],[29,-0.9],[31,0.1],[34,-1.8],[37,0.8],[41,-0.5],[46,1.1],[51,-2.0],[60,1.7],[70,0.9]];
const r5_bat = [[17,1.3],[22,-0.7],[30,-1.6],[45,0.4],[65,0.8],[90,-0.3],[125,-0.1],[175,1.4]];
const r6_xmm = [[0.52,1.6],[0.55,2.4],[0.6,0.05],[0.63,0.1],[0.66,-0.5],[0.68,-2.5],[0.72,-2.5],[0.76,1.3],[0.8,1.1],[0.84,1.8],[0.88,1.8],[0.92,1.4],[0.96,-0.8],[1.0,-2.0],[1.04,-2.0],[1.08,0.7],[1.12,1.7],[1.17,-1.5],[1.22,-0.8],[1.28,-0.5],[1.34,-0.3],[1.4,-0.3],[1.46,0.1],[1.52,-1.0],[1.58,-0.6],[1.64,2.4],[1.7,3.0],[1.76,3.3],[1.82,3.5],[1.9,-2.7],[1.98,-0.8],[2.06,-0.6],[2.14,-0.9],[2.22,0.2],[2.3,1.4],[2.4,2.4],[2.5,-1.0],[2.6,-1.2],[2.7,-0.6],[2.8,-1.4],[2.9,-0.4],[3.0,0.6],[3.2,-1.2],[3.4,1.0],[3.6,-0.6],[3.8,0.6],[4.0,-1.4],[4.2,1.2],[4.4,-0.3],[4.6,-1.0],[4.8,1.5],[5.0,-0.4],[5.2,0.9],[5.4,-1.2],[5.6,0.6],[5.8,2.0],[6.0,-0.5],[6.1,3.0],[6.2,7.0],[6.3,4.5],[6.5,-1.4],[6.8,0.8],[7.0,2.2],[7.3,-0.6],[7.6,1.0],[7.9,-1.2],[8.2,1.6],[8.5,0.1],[8.8,-0.8],[9.1,1.0],[9.4,-0.4],[9.7,0.7],[10,-1.1]];
const r6_fpma = r5_fpma;
const r6_fpmb = r5_fpmb;
const r6_bat = [[17,2.3],[22,-0.3],[30,-3.3],[45,0.2],[65,1.5],[90,0.6],[125,0.5],[175,1.4]];
const r7_xmm = [[0.52,-1.0],[0.55,0.95],[0.58,-0.5],[0.61,1.2],[0.64,0.55],[0.67,0.55],[0.7,-0.2],[0.73,0.3],[0.76,0.5],[0.8,-1.3],[0.84,-1.6],[0.88,1.4],[0.92,-0.3],[0.96,-0.2],[1.0,-1.2],[1.05,-0.3],[1.1,0.9],[1.15,-0.8],[1.2,1.0],[1.25,1.3],[1.3,0.8],[1.35,-0.4],[1.4,0.5],[1.45,-0.6],[1.5,0.2],[1.6,1.2],[1.7,0.4],[1.8,-0.5],[1.9,1.2],[2.0,2.0],[2.1,0.8],[2.2,-0.5],[2.3,2.3],[2.4,1.0],[2.5,-0.7],[2.6,0.6],[2.8,-1.1],[3.0,1.0],[3.2,-0.5],[3.4,0.3],[3.6,1.5],[3.8,-1.3],[4.0,0.7],[4.2,-0.9],[4.4,1.7],[4.6,-0.3],[4.8,0.9],[5.0,-1.6],[5.2,1.3],[5.4,0.1],[5.6,-1.9],[5.8,1.0],[6.0,2.6],[6.1,-1.5],[6.3,0.8],[6.5,-0.6],[6.8,1.4],[7.1,-1.0],[7.4,0.4],[7.8,-0.4],[8.2,0.9],[8.6,-0.8],[9.0,0.3],[9.5,1.0],[9.8,-0.2]];
const r7_fpma = [[3.1,0.3],[4.0,0.1],[4.7,0.3],[5.2,1.0],[5.8,0.6],[6.2,2.0],[6.6,-0.2],[7.0,0.7],[7.5,0.6],[8.0,1.8],[8.6,1.3],[9.2,-0.6],[10,-0.3],[10.6,1.0],[11.3,-0.2],[12,1.2],[13,-0.4],[14,-0.9],[15,0.8],[16.5,0.5],[18,1.0],[20,-1.7],[22,0.7],[24,1.6],[28,-0.3],[35,1.3],[48,0.3],[60,0.3]];
const r7_fpmb = [[3.3,-0.3],[4.3,2.7],[5.2,-2.1],[6.1,2.0],[6.6,0.8],[7.5,-0.8],[8.6,0.5],[10.3,-1.6],[11,-0.2],[12,-0.1],[13,1.7],[14,0.6],[15,-0.9],[16,1.5],[17,-1.0],[18,0.5],[19,0.5],[20.5,0.4],[22,1.5],[24,1.3],[30,0.3],[40,-0.3],[60,1.0]];
const r7_bat = [[17,-1.5],[22,-0.6],[30,0.4],[45,1.6],[65,0.05],[90,-1.0],[125,-0.7],[175,-0.15]];
const r8_xmm = [[0.52,-0.7],[0.55,1.0],[0.58,-1.0],[0.62,0.6],[0.66,0.2],[0.7,-0.4],[0.73,0.1],[0.76,0.8],[0.8,1.6],[0.84,-0.6],[0.88,0.5],[0.92,-0.8],[0.96,-1.0],[1.0,0.3],[1.05,-0.1],[1.1,0.6],[1.15,-0.6],[1.2,1.2],[1.25,0.4],[1.3,0.1],[1.35,-1.1],[1.4,-0.5],[1.45,0.9],[1.5,-1.4],[1.6,1.6],[1.7,-1.8],[1.75,2.9],[1.8,0.6],[1.9,-0.9],[2.0,-1.6],[2.1,-0.7],[2.2,-2.0],[2.3,1.2],[2.4,1.8],[2.5,0.5],[2.6,-1.2],[2.8,0.6],[3.0,0.9],[3.2,-0.7],[3.4,1.5],[3.6,0.4],[3.8,-1.0],[4.0,1.1],[4.2,-0.5],[4.4,0.7],[4.6,1.3],[4.8,-0.9],[5.0,0.6],[5.2,-1.5],[5.4,1.0],[5.6,-0.3],[5.8,-2.1],[6.0,4.5],[6.1,1.5],[6.2,-2.0],[6.4,0.8],[6.7,-0.6],[7.0,1.2],[7.3,-0.4],[7.6,0.6],[8,-1.0],[8.4,0.8],[8.8,-0.2],[9.2,0.5],[9.6,-0.5]];
const r8_fpma = [[3.1,0.8],[4.0,0.9],[4.7,-0.5],[5.2,1.1],[5.8,-0.2],[6.2,1.5],[6.6,0.3],[7.0,-0.8],[7.5,0.9],[8.0,-0.5],[8.6,0.6],[9.2,-1.0],[10,0.2],[10.6,1.2],[11.3,-0.2],[12,0.5],[13,-0.5],[14,0.8],[15,-0.6],[16.5,0.7],[18,-0.5],[20,-0.8],[21,-2.7],[22,0.2],[24,1.2],[28,-0.8],[35,1.3],[55,1.2],[65,1.3]];
const r8_fpmb = [[3.3,-0.05],[4.3,2.5],[5.2,-3.0],[6.1,1.9],[6.6,0.8],[7.5,-0.4],[8.6,0.3],[10.3,-0.8],[11,0.3],[12,0.9],[13,2.2],[14,1.0],[15,-0.6],[16,-0.5],[17,1.4],[18,-1.2],[19,0.1],[20,1.1],[22,0.8],[24,-0.5],[30,-0.2],[40,0.05],[60,1.7]];
const r8_bat = [[17,-0.5],[22,-2.3],[30,-0.2],[45,2.0],[65,1.5],[90,0.4],[125,0.3],[175,0.1]];

// ================= RENDERING =================
const svg = document.getElementById('fig');
const NS = 'http://www.w3.org/2000/svg';
const COL = {xmm:'#1f1fff', fpma:'#ff2a10', fpmb:'#111111', bat:'#ff8a1e'};
const EBAR = {xmm:'rgba(40,40,255,0.62)', fpma:'rgba(255,50,30,0.62)', fpmb:'rgba(20,20,20,0.7)', bat:'rgba(255,140,40,0.75)'};
const INSTR = ['xmm','fpma','fpmb','bat'];
const LEMIN = Math.log10(0.5), LEMAX = Math.log10(200);

function el(tag, attrs, parent){
  const e = document.createElementNS(NS, tag);
  for (const k in attrs) e.setAttribute(k, attrs[k]);
  (parent||svg).appendChild(e);
  return e;
}
function clamp(v, a, b){ return Math.max(a, Math.min(b, v)); }

const panels = [
 {id:'p1', title:'NGC 2655 - 2ME+PL+BORUS', tx:86, ty:17, x0:83, x1:588, yT:23, yD:257, yB:398, lmax:-3.23, lmin:-8.21, rmax:2.05, rmin:-1.8,
  yt:[[1e-4,'10','−4'],[1e-5,'10','−5'],[1e-6,'10','−6'],[1e-7,'10','−7'],[1e-8,'10','−8']], rt:[2,1,0,-1], leg:[339,169,104,59], ylx:21,
  d:{xmm:n2655_xmm,fpma:n2655_fpma,fpmb:n2655_fpmb,bat:n2655_bat}, m:{xmm:m1_xmm,fpma:m1_fpma,fpmb:m1_fpmb,bat:m1_bat},
  r:{xmm:r1_xmm,fpma:r1_fpma,fpmb:r1_fpmb,bat:r1_bat},
  dots:[['xmm',d1_pl],['xmm',d1_me1],['xmm',d1_me2],['xmm',d1_abs],['fpma',d1_refl],['bat',d1_bat]]},
 {id:'p2', title:'NGC 2655 - ab*(ME+XILLVER)', tx:698, ty:21, x0:698, x1:1196, yT:29, yD:258, yB:397, lmax:-3.22, lmin:-8.2, rmax:2.37, rmin:-2.08,
  yt:[[1e-4,'10','−4'],[1e-5,'10','−5'],[1e-6,'10','−6'],[1e-7,'10','−7'],[1e-8,'10','−8']], rt:[2,1,0,-1,-2], leg:[974,169,107,60], ylx:645,
  d:{xmm:n2655_xmm,fpma:n2655_fpma,fpmb:n2655_fpmb,bat:n2655_bat}, m:{xmm:m2_xmm,fpma:m2_fpma,fpmb:m2_fpmb,bat:m2_bat},
  r:{xmm:r2_xmm,fpma:r2_fpma,fpmb:r2_fpmb,bat:r2_bat},
  dots:[['xmm',d2_me],['fpma',d2_me]]},
 {id:'p3', title:'NGC 3147 - BORUS', tx:88, ty:496, x0:85, x1:581, yT:498, yD:726, yB:863, lmax:-3.017, lmin:-4.966, rmax:2.48, rmin:-3.48,
  yt:[[5e-4,'5×10','−4'],[2e-4,'2×10','−4'],[1e-4,'10','−4'],[5e-5,'5×10','−5'],[2e-5,'2×10','−5']], rt:[2,0,-2], leg:[446,516,105,58], ylx:18,
  d:{xmm:n3147_xmm,fpma:n3147_fpma,fpmb:n3147_fpmb,bat:n3147_bat}, m:{xmm:m3_xmm,fpma:m3_fpma,fpmb:m3_fpmb,bat:m3_bat},
  r:{xmm:r3_xmm,fpma:r3_fpma,fpmb:r3_fpmb,bat:r3_bat},
  dots:[['xmm',d3_fe],['fpma',d3_fe],['bat',d3_bat]]},
 {id:'p4', title:'NGC 3147 - XILLVER', tx:707, ty:498, x0:705, x1:1195, yT:503, yD:730, yB:866, lmax:-3.058, lmin:-4.934, rmax:2.81, rmin:-3.67,
  yt:[[5e-4,'5×10','−4'],[2e-4,'2×10','−4'],[1e-4,'10','−4'],[5e-5,'5×10','−5'],[2e-5,'2×10','−5']], rt:[2,0,-2], leg:[1065,519,105,58], ylx:640,
  d:{xmm:n3147_xmm,fpma:n3147_fpma,fpmb:n3147_fpmb,bat:n3147_bat}, m:{xmm:m4_xmm,fpma:m4_fpma,fpmb:m4_fpmb,bat:m4_bat},
  r:{xmm:r4_xmm,fpma:r4_fpma,fpmb:r4_fpmb,bat:r4_bat}, dots:[]},
 {id:'p5', title:'NGC 2110 - ab*(ME+PL+BORUS)', tx:83, ty:973, x0:83, x1:586, yT:980, yD:1212, yB:1352, lmax:-1.447, lmin:-4.5, rmax:3.49, rmin:-3.02,
  yt:[[1e-2,'0.01',''],[1e-3,'10','−3'],[1e-4,'10','−4']], rt:[2,0,-2], leg:[463,994,106,60], ylx:17,
  d:{xmm:n2110_xmm,fpma:n2110_fpma,fpmb:n2110_fpmb,bat:n2110_bat}, m:{xmm:m5_xmm,fpma:m5_fpma,fpmb:m5_fpmb,bat:m5_bat},
  r:{xmm:r5_xmm,fpma:r5_fpma,fpmb:r5_fpmb,bat:r5_bat},
  dots:[['xmm',d5_lines],['xmm',d5_refl],['fpma',d5_refl],['bat',d5_bat]]},
 {id:'p6', title:'NGC 2110 - ab*(ME+XILLVER)', tx:698, ty:977, x0:696, x1:1192, yT:986, yD:1214, yB:1352, lmax:-1.389, lmin:-4.556, rmax:7.27, rmin:-3.52,
  yt:[[1e-2,'0.01',''],[1e-3,'10','−3'],[1e-4,'10','−4']], rt:[5,0], leg:[1073,994,107,60], ylx:640,
  d:{xmm:n2110_xmm,fpma:n2110_fpma,fpmb:n2110_fpmb,bat:n2110_bat}, m:{xmm:m6_xmm,fpma:m6_fpma,fpmb:m6_fpmb,bat:m6_bat},
  r:{xmm:r6_xmm,fpma:r6_fpma,fpmb:r6_fpmb,bat:r6_bat}, dots:[['xmm',d6_lines]]},
 {id:'p7', title:'LEDA 96373 - ab*(2ME+BORUS)', tx:83, ty:1458, x0:85, x1:576, yT:1463, yD:1690, yB:1826, lmax:-2.638, lmin:-4.8, rmax:3.47, rmin:-2.91,
  yt:[[1e-3,'10','−3'],[1e-4,'10','−4']], rt:[2,0,-2], leg:[450,1479,108,60], ylx:17,
  d:{xmm:leda_xmm,fpma:leda_fpma,fpmb:leda_fpmb,bat:leda_bat}, m:{xmm:m7_xmm,fpma:m7_fpma,fpmb:m7_fpmb,bat:m7_bat},
  r:{xmm:r7_xmm,fpma:r7_fpma,fpmb:r7_fpmb,bat:r7_bat},
  dots:[['xmm',d7_me],['fpma',d7_torus],['fpmb',d7_scat],['fpma',d7_scat],['bat',d7_bat]]},
 {id:'p8', title:'LEDA 96373 - ab*(ME+PL+XILLVER)', tx:702, ty:1458, x0:702, x1:1194, yT:1463, yD:1691, yB:1827, lmax:-2.732, lmin:-4.768, rmax:5.0, rmin:-3.31,
  yt:[[1e-3,'10','−3'],[1e-4,'10','−4']], rt:[4,2,0,-2], leg:[1068,1479,108,60], ylx:635,
  d:{xmm:leda_xmm,fpma:leda_fpma,fpmb:leda_fpmb,bat:leda_bat}, m:{xmm:m8_xmm,fpma:m8_fpma,fpmb:m8_fpmb,bat:m8_bat},
  r:{xmm:r8_xmm,fpma:r8_fpma,fpmb:r8_fpmb,bat:r8_bat}, dots:[['xmm',d8_pl],['fpma',d8_pl],['fpmb',d8_pl]]}
];

function edges(arr, i){
  const E = arr[i][0];
  const prev = i>0 ? arr[i-1][0] : E*E/arr[i+1][0];
  const next = i<arr.length-1 ? arr[i+1][0] : E*E/arr[i-1][0];
  return [Math.sqrt(prev*E), Math.sqrt(E*next)];
}

panels.forEach(function(c){
  const X = E => c.x0 + (Math.log10(E)-LEMIN)/(LEMAX-LEMIN)*(c.x1-c.x0);
  const YF = v => c.yT + (c.lmax-Math.log10(v))/(c.lmax-c.lmin)*(c.yD-c.yT);
  const YR = r => c.yD + (c.rmax-r)/(c.rmax-c.rmin)*(c.yB-c.yD);
  const YFc = v => clamp(YF(v), c.yT-4, c.yD+4);
  const YRc = r => clamp(YR(r), c.yD-4, c.yB+4);
  const g = el('g', {});
  
  

  const defs = el('defs', {}, g);
  const cu = el('clipPath', {id:c.id+'cu'}, defs);
  el('rect', {x:c.x0, y:c.yT, width:c.x1-c.x0, height:c.yD-c.yT}, cu);
  const cl = el('clipPath', {id:c.id+'cl'}, defs);
  el('rect', {x:c.x0, y:c.yD, width:c.x1-c.x0, height:c.yB-c.yD}, cl);

  const t = el('text', {x:c.tx, y:c.ty, 'font-size':15, fill:'#111'}, g);
  t.textContent = c.title;
  
  

  const up = el('g', {'clip-path':'url(#'+c.id+'cu)'}, g);
  
  
  c.dots.forEach(function(dd){
    const pts = dd[1].map(p => X(p[0]).toFixed(1)+','+YFc(p[1]).toFixed(1)).join(' ');
    const pl = el('polyline', {points:pts, fill:'none', stroke:COL[dd[0]], 'stroke-width':1.4, 'stroke-dasharray':'1.3 2.4', opacity:0.85}, up);
    
    
  });
  INSTR.forEach(function(k){
    const arr = c.d[k];
    arr.forEach(function(p, i){
      const ed = edges(arr, i);
      const x = X(p[0]), y = YF(p[1]);
      const lo = p[1]*(1-p[2]) > 0 ? YFc(p[1]*(1-p[2])) : c.yD+4;
      const hi = YFc(p[1]*(1+p[2]));
      const eb = el('path', {d:'M'+X(ed[0]).toFixed(1)+' '+y.toFixed(1)+'H'+X(ed[1]).toFixed(1)+'M'+x.toFixed(1)+' '+hi.toFixed(1)+'V'+lo.toFixed(1), stroke:EBAR[k], 'stroke-width':1.6, fill:'none'}, up);
      
      
      if (y > c.yT-4 && y < c.yD+4) el('circle', {cx:x.toFixed(1), cy:y.toFixed(1), r:1.8, fill:COL[k]}, up);
    });
  });
  INSTR.forEach(function(k){
    const m = c.m[k];
    let d = 'M'+X(m[0][0]).toFixed(1)+' '+YFc(m[0][1]).toFixed(1);
    for (let i=1;i<m.length;i++){
      d += 'H'+X(m[i][0]).toFixed(1);
      if (i<m.length-1) d += 'V'+YFc(m[i][1]).toFixed(1);
    }
    const mp = el('path', {d:d, fill:'none', stroke:COL[k], 'stroke-width':1.5}, up);
    
    
  });

  const lo = el('g', {'clip-path':'url(#'+c.id+'cl)'}, g);
  
  
  const zl = el('line', {x1:c.x0, x2:c.x1, y1:YR(0), y2:YR(0), stroke:'#555', 'stroke-width':1.2}, lo);
  
  
  INSTR.forEach(function(k){
    const arr = c.r[k];
    arr.forEach(function(p, i){
      const ed = edges(arr, i);
      const x = X(p[0]), y = YR(p[1]);
      const rb = el('path', {d:'M'+X(ed[0]).toFixed(1)+' '+YRc(p[1]).toFixed(1)+'H'+X(ed[1]).toFixed(1)+'M'+x.toFixed(1)+' '+YRc(p[1]+1).toFixed(1)+'V'+YRc(p[1]-1).toFixed(1), stroke:EBAR[k], 'stroke-width':1.6, fill:'none'}, lo);
      
      
      if (y > c.yD-4 && y < c.yB+4) el('circle', {cx:x.toFixed(1), cy:y.toFixed(1), r:1.8, fill:COL[k]}, lo);
    });
  });

  const fr = el('rect', {x:c.x0, y:c.yT, width:c.x1-c.x0, height:c.yB-c.yT, fill:'none', stroke:'#444', 'stroke-width':1.3}, g);
  
  
  el('line', {x1:c.x0, x2:c.x1, y1:c.yD, y2:c.yD, stroke:'#333', 'stroke-width':1.6}, g);

  let tk = '';
  for (let dec=-1; dec<=2; dec++){
    for (let m=1; m<=9; m++){
      const E = m*Math.pow(10,dec);
      if (E<0.5 || E>200) continue;
      const x = X(E).toFixed(1), L = m===1 ? 8 : 4;
      tk += 'M'+x+' '+c.yT+'v'+L+'M'+x+' '+c.yB+'v-'+L+'M'+x+' '+c.yD+'v-'+L+'M'+x+' '+c.yD+'v'+L;
    }
  }
  for (let e=Math.floor(c.lmin); e<=Math.ceil(c.lmax); e++){
    for (let m=1;m<=9;m++){
      const lv = e+Math.log10(m);
      if (lv<c.lmin || lv>c.lmax) continue;
      const y = YF(Math.pow(10,lv)).toFixed(1), L = m===1 ? 8 : 4;
      tk += 'M'+c.x0+' '+y+'h'+L+'M'+c.x1+' '+y+'h-'+L;
    }
  }
  for (let r=Math.ceil(c.rmin); r<=Math.floor(c.rmax); r++){
    const y = YR(r).toFixed(1);
    const L = c.rt.indexOf(r)>=0 ? 8 : 4;
    tk += 'M'+c.x0+' '+y+'h'+L+'M'+c.x1+' '+y+'h-'+L;
  }
  const tp = el('path', {d:tk, stroke:'#444', 'stroke-width':1, fill:'none'}, g);
  
  

  xTickVals.forEach(function(v, i){
    const tl = el('text', {x:X(v), y:c.yB+16, 'font-size':13, 'text-anchor':'middle', fill:'#111'}, g);
    tl.textContent = xTickLabels[i];
    
    
  });
  c.yt.forEach(function(t){
    const tl = el('text', {x:c.x0-6, y:YF(t[0])+5, 'font-size':13, 'text-anchor':'end', fill:'#111'}, g);
    
    
    const a = el('tspan', {}, tl); a.textContent = t[1];
    if (t[2]) { const s = el('tspan', {dy:-6, 'font-size':9}, tl); s.textContent = t[2]; }
  });
  c.rt.forEach(function(r){
    const tl = el('text', {x:c.x0-6, y:YR(r)+5, 'font-size':13, 'text-anchor':'end', fill:'#111'}, g);
    tl.textContent = r<0 ? '−'+(-r) : String(r);
    
    
  });

  const xl = el('text', {x:(c.x0+c.x1)/2, y:c.yB+43, 'font-size':15, 'text-anchor':'middle', fill:'#111'}, g);
  xl.textContent = 'Energy (keV)';
  
  
  const ym = (c.yT+c.yD)/2;
  const yl = el('text', {x:c.ylx, y:ym, 'font-size':15, 'text-anchor':'middle', fill:'#111', transform:'rotate(-90 '+c.ylx+' '+ym+')', 'dominant-baseline':'middle'}, g);
  
  
  const parts = [['Photons cm',0],['−2',1],['s',0],['−1',1],['keV',0],['−1',1]];
  parts.forEach(function(p, i){
    let dy = 0;
    if (p[1]) dy = -7; else if (i>0 && parts[i-1][1]) dy = 7;
    const s = el('tspan', {'font-size': p[1] ? 10 : 15, dy: dy}, yl);
    s.textContent = p[0];
  });
  const rm = (c.yD+c.yB)/2;
  const rl = el('text', {x:c.ylx, y:rm, 'font-size':15, 'text-anchor':'middle', fill:'#111', transform:'rotate(-90 '+c.ylx+' '+rm+')', 'dominant-baseline':'middle'}, g);
  rl.textContent = '(data - model)/error';
  
  

  const L = c.leg;
  const lg = el('g', {}, g);
  
  
  el('rect', {x:L[0], y:L[1], width:L[2], height:L[3], fill:'#fff', stroke:'#555', 'stroke-width':1.2}, lg);
  const names = [['XMM-Newton',' Pn'],['NuSTAR',' FPMA'],['NuSTAR',' FPMB'],['Swift',' BAT']];
  INSTR.forEach(function(k, i){
    const yy = L[1]+13+i*12;
    el('circle', {cx:L[0]+5, cy:yy-3.5, r:1.6, fill:COL[k]}, lg);
    const tx = el('text', {x:L[0]+18, y:yy, 'font-size':11, fill:'#111'}, lg);
    
    
    const a = el('tspan', {'font-style':'italic'}, tx); a.textContent = names[i][0];
    const b = el('tspan', {}, tx); b.textContent = names[i][1];
  });
});
</script>
</body></html>
